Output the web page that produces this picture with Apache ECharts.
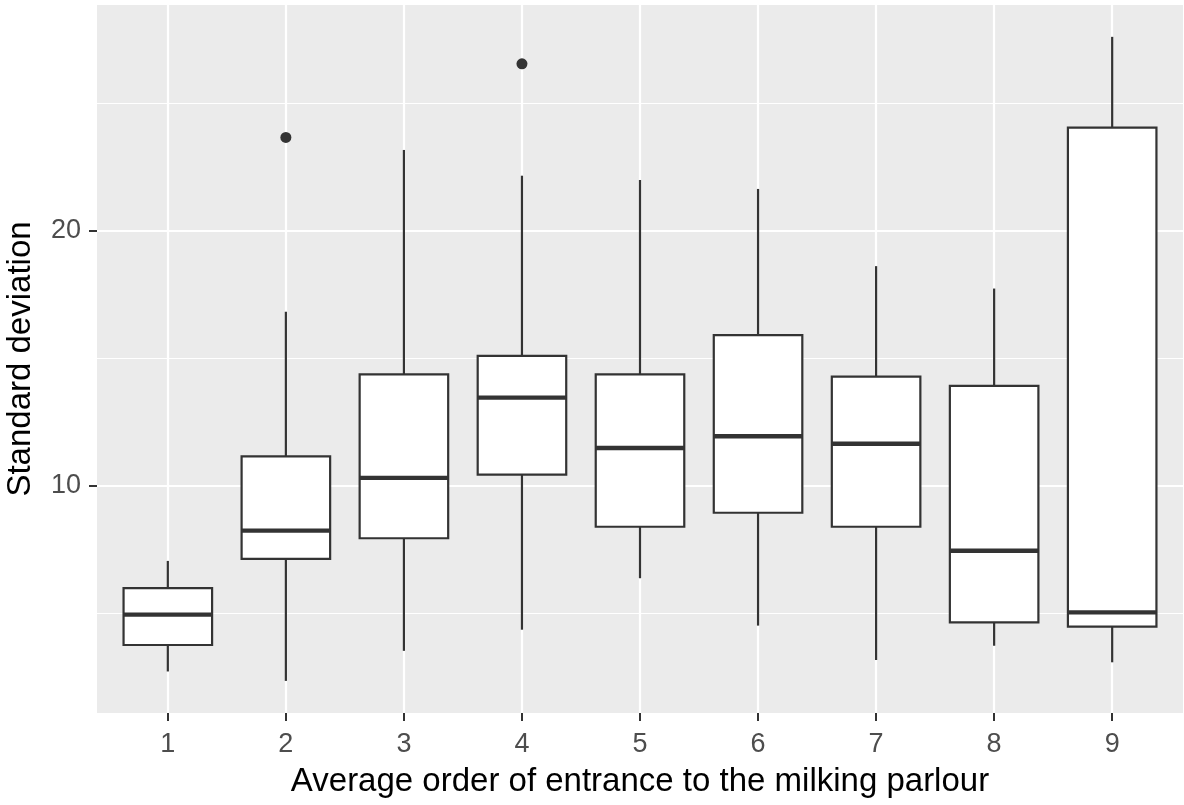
<!DOCTYPE html>
<html>
<head>
<meta charset="utf-8">
<script src="https://cdn.jsdelivr.net/npm/echarts@6/dist/echarts.min.js"></script>
<style>
html,body{margin:0;padding:0;background:#fff;}
#chart{width:1184px;height:805px;}
</style>
</head>
<body>
<div id="chart"></div>
<script>
const categories = [1, 2, 3, 4, 5, 6, 7, 8, 9];
const lowerWhisker = [2.70, 2.33, 3.51, 4.34, 6.36, 4.50, 3.15, 3.71, 3.06];
const q1 = [3.74, 7.12, 7.93, 10.43, 8.38, 8.93, 8.38, 4.63, 4.46];
const median = [4.93, 8.23, 10.30, 13.45, 11.47, 11.93, 11.64, 7.44, 5.02];
const q3 = [5.97, 11.14, 14.36, 15.09, 14.36, 15.90, 14.27, 13.91, 24.05];
const upperWhisker = [7.04, 16.82, 23.17, 22.16, 21.99, 21.64, 18.61, 17.73, 27.61];
const outlierX = [2, 4];
const outlierY = [23.66, 26.55];
const yLabelTicks = [10, 20];
const yMinorTicks = [5, 15, 25];
const xLabelTicks = [1, 2, 3, 4, 5, 6, 7, 8, 9];

const FONT = 'Liberation Sans, Arial, sans-serif';
const INK = '#333333';

const boxData = categories.map((c, i) => [c, lowerWhisker[i], q1[i], median[i], q3[i], upperWhisker[i]]);
const outlierData = outlierX.map((x, i) => [x, outlierY[i]]);

const gridLines = [];
yMinorTicks.forEach(v => gridLines.push({ yAxis: v, lineStyle: { width: 1.1 } }));
yLabelTicks.forEach(v => gridLines.push({ yAxis: v, lineStyle: { width: 2.2 } }));
xLabelTicks.forEach(v => gridLines.push({ xAxis: v, lineStyle: { width: 2.2 } }));

const chart = echarts.init(document.getElementById('chart'), null, { renderer: 'canvas' });
chart.setOption({
  animation: false,
  backgroundColor: '#ffffff',
  grid: {
    left: 97, right: 1, top: 5, bottom: 92,
    containLabel: false,
    outerBoundsMode: 'none',
    show: true, backgroundColor: '#EBEBEB', borderWidth: 0
  },
  xAxis: {
    type: 'value',
    min: 0.4, max: 9.6,
    name: 'Average order of entrance to the milking parlour',
    nameLocation: 'middle',
    nameGap: 52,
    nameTextStyle: { fontFamily: FONT, fontSize: 33, color: '#000000' },
    axisLine: { show: false },
    axisTick: { show: true, length: 8, customValues: xLabelTicks, lineStyle: { color: INK, width: 2 } },
    axisLabel: { customValues: xLabelTicks, fontFamily: FONT, fontSize: 27, color: '#4D4D4D', margin: 18 },
    splitLine: { show: false }
  },
  yAxis: {
    type: 'value',
    min: 1.07, max: 28.86,
    name: 'Standard deviation',
    nameLocation: 'middle',
    nameGap: 60,
    nameTextStyle: { fontFamily: FONT, fontSize: 33, color: '#000000' },
    axisLine: { show: false },
    axisTick: { show: true, length: 8, customValues: yLabelTicks, lineStyle: { color: INK, width: 2 } },
    axisLabel: { customValues: yLabelTicks, fontFamily: FONT, fontSize: 27, color: '#4D4D4D', margin: 16 },
    splitLine: { show: false }
  },
  series: [
    {
      type: 'line',
      data: [],
      z: 1,
      silent: true,
      markLine: {
        z: 1,
        silent: true,
        symbol: ['none', 'none'],
        label: { show: false },
        animation: false,
        lineStyle: { color: '#FFFFFF', type: 'solid' },
        emphasis: { disabled: true },
        data: gridLines
      }
    },
    {
      type: 'custom',
      z: 3,
      silent: true,
      data: boxData,
      renderItem: function (params, api) {
        const x = api.value(0);
        const lo = api.coord([x, api.value(1)]);
        const b1 = api.coord([x, api.value(2)]);
        const md = api.coord([x, api.value(3)]);
        const b3 = api.coord([x, api.value(4)]);
        const hi = api.coord([x, api.value(5)]);
        const half = api.size([0.75, 0])[0] / 2;
        const cx = lo[0];
        return {
          type: 'group',
          children: [
            { type: 'line', shape: { x1: cx, y1: b1[1], x2: cx, y2: lo[1] }, style: { stroke: INK, lineWidth: 2.2 } },
            { type: 'line', shape: { x1: cx, y1: b3[1], x2: cx, y2: hi[1] }, style: { stroke: INK, lineWidth: 2.2 } },
            { type: 'rect', shape: { x: cx - half, y: b3[1], width: half * 2, height: b1[1] - b3[1] }, style: { fill: '#FFFFFF', stroke: INK, lineWidth: 2.2 } },
            { type: 'line', shape: { x1: cx - half, y1: md[1], x2: cx + half, y2: md[1] }, style: { stroke: INK, lineWidth: 4.4 } }
          ]
        };
      }
    },
    {
      type: 'scatter',
      z: 4,
      silent: true,
      data: outlierData,
      symbol: 'circle',
      symbolSize: 11,
      itemStyle: { color: INK, opacity: 1 }
    }
  ]
});
</script>
</body>
</html>
